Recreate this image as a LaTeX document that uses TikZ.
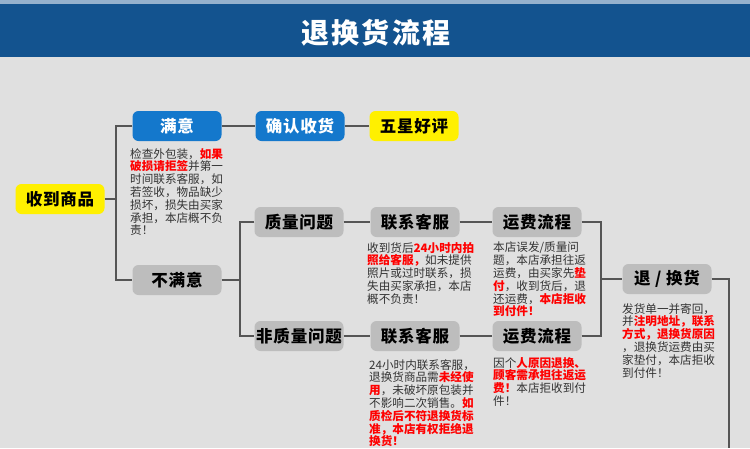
\documentclass[tikz,border=0pt]{standalone}
\usepackage{fontspec}
\setmainfont{Noto Sans CJK SC}
\definecolor{hdrblue}{HTML}{13538F}
\definecolor{bggray}{HTML}{E0E0E0}
\definecolor{nodeblue}{HTML}{1478CC}
\definecolor{nodeyellow}{HTML}{FFF000}
\definecolor{nodegray}{HTML}{BDBDBD}
\definecolor{linegray}{HTML}{555555}
\definecolor{txtgray}{HTML}{333333}
\definecolor{redtxt}{HTML}{FF0000}
\newcommand\redb[1]{\textcolor{redtxt}{\bfseries #1}}
\tikzset{
  box/.style={rounded corners=6pt, minimum width=89pt, minimum height=30pt, inner sep=0pt,
              font=\fontsize{16.5}{18}\selectfont\bfseries\addfontfeature{LetterSpace=5}},
  bluebox/.style={box, fill=nodeblue, text=white},
  yellowbox/.style={box, fill=nodeyellow, text=black},
  graybox/.style={box, fill=nodegray, text=black},
  conn/.style={draw=linegray, line width=1.6pt},
  txt/.style={anchor=north west, inner sep=0pt, align=left,
              font=\fontsize{11.6}{12.8}\selectfont, text=txtgray}
}
\begin{document}
\begin{tikzpicture}[x=1pt,y=-1pt]
\useasboundingbox (0,0) rectangle (750,448);
\fill[bggray] (0,0) rectangle (750,448);
\fill[hdrblue!45!white] (0,0) rectangle (750,4);
\fill[hdrblue] (0,4) rectangle (750,57);
\node[text=white, font=\fontsize{28}{30}\selectfont\bfseries\addfontfeature{LetterSpace=8}] (title) at (376,33) {退换货流程};

% nodes
\node[yellowbox] (recv) at (60,199) {收到商品};
\node[bluebox] (sat) at (177,126) {满意};
\node[bluebox] (confirm) at (300,126) {确认收货};
\node[yellowbox] (five) at (414,126) {五星好评};
\node[graybox] (unsat) at (177,280) {不满意};
\node[graybox] (qual) at (299,222) {质量问题};
\node[graybox] (nonqual) at (299,336) {非质量问题};
\node[graybox] (cs1) at (415,222) {联系客服};
\node[graybox] (fee1) at (537,222) {运费流程};
\node[graybox] (cs2) at (415,336) {联系客服};
\node[graybox] (fee2) at (537,336) {运费流程};
\node[graybox] (ret) at (667,279) {退 / 换货};

% junctions
\coordinate (j1) at (116,199);
\coordinate (j2) at (240,280);
\coordinate (j3) at (601,279);
\coordinate (jend) at (729,448);

% connectors
\draw[conn] (recv.east) -- (j1);
\draw[conn] (sat.west) -| (j1) |- (unsat.west);
\draw[conn] (sat) -- (confirm);
\draw[conn] (confirm) -- (five);
\draw[conn] (unsat.east) -- (j2);
\draw[conn] (qual.west) -| (j2) |- (nonqual.west);
\draw[conn] (qual) -- (cs1);
\draw[conn] (cs1) -- (fee1);
\draw[conn] (nonqual) -- (cs2);
\draw[conn] (cs2) -- (fee2);
\draw[conn] (fee1.east) -| (j3) |- (ret.west);
\draw[conn] (fee2.east) -| (j3);
\draw[conn] (ret.east) -| (jend);

% texts
\node[txt] (t1) at (130,148) {检查外包装，\redb{如果}\\\redb{破损请拒签}并第一\\时间联系客服，如\\若签收，物品缺少\\损坏，损失由买家\\承担，本店概不负\\责！};
\node[txt] (t2) at (367,242) {收到货后\redb{24小时内拍}\\\redb{照给客服，}如未提供\\照片或过时联系，损\\失由买家承担，本店\\概不负责！};
\node[txt] (t3) at (493,242) {本店误发/质量问\\题，本店承担往返\\运费，由买家先\redb{垫}\\\redb{付}，收到货后，退\\还运费，\redb{本店拒收}\\\redb{到付件！}};
\node[txt] (t4) at (622,303) {发货单一并寄回，\\并\redb{注明地址，联系}\\\redb{方式，退换货原因}\\，退换货运费由买\\家垫付，本店拒收\\到付件！};
\node[txt] (t5) at (369,359) {24小时内联系客服，\\退换货商品需\redb{未经使}\\\redb{用}，未破坏原包装并\\不影响二次销售。\redb{如}\\\redb{质检后不符退换货标}\\\redb{准，本店有权拒绝退}\\\redb{换货！}};
\node[txt] (t6) at (493,357) {因个\redb{人原因退换、}\\\redb{顾客需承担往返运}\\\redb{费！}本店拒收到付\\件！};
\end{tikzpicture}
\end{document}
